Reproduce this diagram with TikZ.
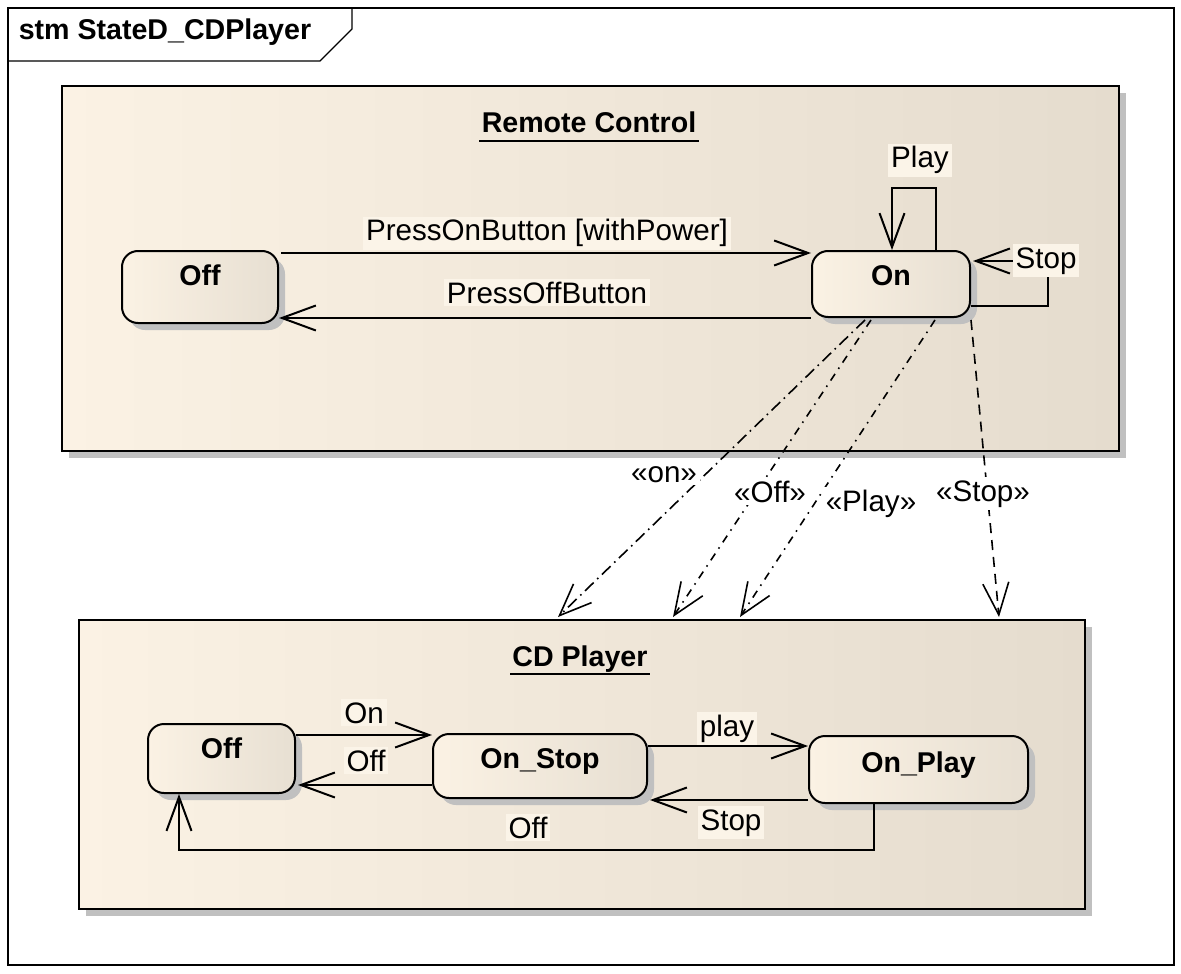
\documentclass[tikz,border=0pt]{standalone}
\usepackage{fontspec}
\setmainfont{Liberation Sans}
\usetikzlibrary{arrows.meta,positioning,calc,shadows}
\definecolor{paper}{RGB}{251,242,228}
\definecolor{beige}{RGB}{229,220,206}
\definecolor{sbeige}{RGB}{231,223,210}
\definecolor{labbg}{RGB}{251,244,232}
\definecolor{shd}{RGB}{192,192,192}
\newcommand{\dfont}{\fontsize{14.8}{17}\selectfont}
\newcommand{\bfont}{\fontsize{14.3}{17}\selectfont\bfseries}
\tikzset{
  shd/.style={drop shadow={shadow xshift=3.5pt,shadow yshift=-3.5pt,
    fill=shd,opacity=1}},
  region/.style={draw,line width=1pt,left color=paper,right color=beige,
    shd,inner sep=0pt,anchor=north west},
  state/.style={draw,line width=1pt,rounded corners=8pt,left color=paper,
    middle color=paper,right color=sbeige,shd,inner sep=0pt,anchor=north,
    font=\bfont,text height=17pt},
  title/.style={font=\bfont,inner sep=0pt,anchor=base},
  uline/.style={line width=1pt},
  lab/.style={fill=labbg,inner sep=1.5pt,font=\dfont,anchor=base},
  dlab/.style={fill=white,inner sep=1.5pt,font=\dfont,anchor=base},
  tr/.style={line width=1pt,-{Straight Barb[length=17pt,width=12.5pt]}},
  dep/.style={line width=0.8pt,-{Straight Barb[length=16pt,width=13pt]}},
  dashdot/.style={dash pattern=on 6pt off 2.5pt on 0.8pt off 2.5pt},
  dotdash/.style={dash pattern=on 4pt off 3pt on 0.8pt off 3pt},
  dashline/.style={dash pattern=on 5pt off 3.5pt},
}
\begin{document}
\begin{tikzpicture}[x=0.5pt,y=-0.5pt]
  \useasboundingbox[fill=white] (0,0) rectangle (1181,973);
  \draw[line width=0.6pt] (8,8) rectangle (1174,965);
  \draw[line width=0.6pt] (8,61) -- (320,61) -- (352,29) -- (352,8);
  \node[title] (stm) at (165,40) {stm StateD\_CDPlayer};

  % remote control
  \node[region,minimum width=528.5pt,minimum height=182.5pt] (rc) at (61,85) {};
  \node[title] (rctitle) at (589,133) {Remote Control};
  \draw[uline] ([xshift=-1pt,yshift=-4pt]rctitle.base west)
    -- ([xshift=1pt,yshift=-4pt]rctitle.base east);
  \node[state,minimum width=78pt,text depth=19pt] (off1) at (200,250) {Off};
  \node[state,minimum width=79pt,text depth=16pt] (on1) at (891,250) {On};

  \draw[tr] ($(off1.north east)+(2,3)$) -- ($(on1.north west)+(0,3)$);
  \node[lab] (lpon) at (547,241) {PressOnButton [withPower]};
  \draw[tr] (on1.south west) -- (on1.south west -| off1.east);
  \node[lab] (lpoff) at (547,303) {PressOffButton};
  \draw[tr] ($(on1.north west)+(125,0)$) -- ++(0,-62) -- ++(-44,0) -- ++(0,62);
  \node[lab] (lplay) at (920,168) {Play};
  \draw[tr] ($(on1.east)+(0,22)$) -- ++(77,0) -- ++(0,-45)
    -- ($(on1.east)+(2,-23)$);
  \node[lab] (lstop) at (1046,268) {Stop};

  % cd player
  \node[region,minimum width=503pt,minimum height=144.5pt] (cd) at (78,619) {};
  \node[title] (cdtitle) at (580,666) {CD Player};
  \draw[uline] ([xshift=-1pt,yshift=-4pt]cdtitle.base west)
    -- ([xshift=1pt,yshift=-4pt]cdtitle.base east);
  \node[state,minimum width=73.5pt,text depth=17.5pt] (off2) at (221.5,723) {Off};
  \node[state,minimum width=107pt,text depth=15pt] (onstop) at (540,733) {On\_Stop};
  \node[state,minimum width=109.5pt,text height=18pt,text depth=15.5pt]
    (onplay) at (918.5,735) {On\_Play};

  \draw[tr] ($(off2.north east)+(0,12)$) -- ($(onstop.north west)+(0,2)$);
  \node[lab] (lon) at (364,723) {On};
  \draw[tr] ($(onstop.south west)+(0,-14)$) -- ($(off2.south east)+(2,-9)$);
  \node[lab] (loff) at (366,771) {Off};
  \draw[tr] ($(onstop.north east)+(0,13)$) -- ($(onplay.north west)+(0,11)$);
  \node[lab] (lpl) at (727,736) {play};
  \draw[tr] ($(onplay.south west)+(0,-4)$) -- ($(onstop.south east)+(2,1)$);
  \node[lab] (lst) at (731,830) {Stop};
  \draw[tr] ($(onplay.south west)+(66,0)$) -- ++(0,46)
    -| ($(off2.south west)+(32,0)$);
  \node[lab] (loff2) at (528,838) {Off};

  % signals between the regions
  \draw[dep,dashdot] ($(on1.south west)+(54,2)$) -- ($(cd.north west)+(480,-2)$);
  \draw[dep,dotdash] ($(on1.south west)+(60,2)$) -- ($(cd.north west)+(595,-2)$);
  \draw[dep,dotdash] ($(on1.south west)+(124,2)$) -- ($(cd.north west)+(662,-2)$);
  \draw[dep,dashline] ($(on1.south east)+(0,2)$) -- ($(cd.north west)+(921,-2)$);
  \node[dlab] (don) at (664,482) {«on»};
  \node[dlab] (doff) at (770,502) {«Off»};
  \node[dlab] (dplay) at (871,511) {«Play»};
  \node[dlab] (dstop) at (983,501) {«Stop»};
\end{tikzpicture}
\end{document}
